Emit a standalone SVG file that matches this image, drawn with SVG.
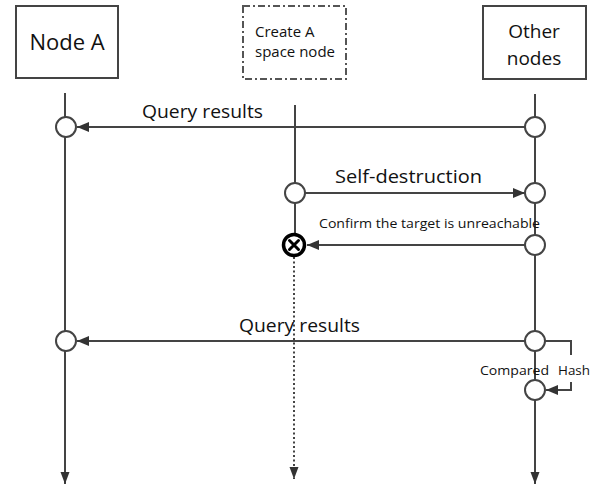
<svg xmlns="http://www.w3.org/2000/svg" width="598" height="486" viewBox="0 0 598 486">
<style>
  .box{fill:#fff;stroke:#444;stroke-width:2}
  .life{stroke:#444;stroke-width:2;fill:none}
  .msg{stroke:#444;stroke-width:2;fill:none}
  .dot{stroke:#444;stroke-width:2;fill:none;stroke-dasharray:2 2.5}
  .act{fill:#fff;stroke:#444;stroke-width:2}
  text{font-family:"Open Sans","Liberation Sans",sans-serif;fill:#111}
</style>
<defs>
  <marker id="ah" markerWidth="12" markerHeight="10" refX="12" refY="5" orient="auto" markerUnits="userSpaceOnUse">
    <path d="M0,0 L12,5 L0,10 Z" fill="#333"/>
  </marker>
  <marker id="ahd" markerWidth="12" markerHeight="16" refX="16" refY="6" orient="auto" markerUnits="userSpaceOnUse" viewBox="0 0 16 12">
    <path d="M0,0 L16,6 L0,12 Z" fill="#333"/>
  </marker>
</defs>

<g id="node-a">
  <rect class="box" x="16" y="6" width="102" height="72"/>
  <text x="67" y="50" font-size="22" text-anchor="middle">Node A</text>
</g>
<g id="create-a">
  <rect x="243" y="6" width="103" height="73" fill="#fff" stroke="#555" stroke-width="2" stroke-dasharray="7 3 2 3"/>
  <text x="255" y="37" font-size="15">Create A</text>
  <text x="255" y="57" font-size="15">space node</text>
</g>
<g id="other-nodes">
  <rect class="box" x="483" y="6" width="103" height="73"/>
  <text x="534" y="38" font-size="19" text-anchor="middle">Other</text>
  <text x="534" y="65" font-size="19" text-anchor="middle">nodes</text>
</g>

<g id="lifelines">
  <line class="life" x1="65" y1="93" x2="65" y2="484" marker-end="url(#ahd)"/>
  <line class="life" x1="295" y1="105" x2="295" y2="234"/>
  <line class="dot" x1="294" y1="257" x2="294" y2="479" marker-end="url(#ahd)"/>
  <line class="life" x1="535" y1="94" x2="535" y2="484" marker-end="url(#ahd)"/>
</g>

<g id="connectors">
  <line class="msg" x1="525" y1="127" x2="77" y2="127" marker-end="url(#ah)"/>
  <line class="msg" x1="305" y1="193" x2="525" y2="193" marker-end="url(#ah)"/>
  <line class="msg" x1="525" y1="245" x2="307" y2="245" marker-end="url(#ah)"/>
  <line class="msg" x1="525" y1="341" x2="77" y2="341" marker-end="url(#ah)"/>
  <polyline class="msg" points="545,341 571,341 571,355"/>
  <polyline class="msg" points="571,382 571,390 546,390" marker-end="url(#ah)"/>
</g>

<g id="activations">
  <circle class="act" cx="66" cy="127" r="10"/>
  <circle class="act" cx="535" cy="127" r="10"/>
  <circle class="act" cx="295" cy="193" r="10"/>
  <circle class="act" cx="535" cy="193" r="10"/>
  <circle class="act" cx="535" cy="245" r="10"/>
  <circle class="act" cx="66" cy="341" r="10"/>
  <circle class="act" cx="535" cy="341" r="10"/>
  <circle class="act" cx="535" cy="390" r="10"/>
</g>

<g id="destroy">
  <circle cx="294" cy="245" r="10.5" fill="#fff" stroke="#000" stroke-width="3.5"/>
  <path d="M289.5,240.5 L298.5,249.5 M298.5,240.5 L289.5,249.5" stroke="#000" stroke-width="3" stroke-linecap="round"/>
</g>

<g id="labels">
  <text x="142" y="118" font-size="18" textLength="121" lengthAdjust="spacingAndGlyphs">Query results</text>
  <text x="335" y="183" font-size="18" textLength="147" lengthAdjust="spacingAndGlyphs">Self-destruction</text>
  <text x="319" y="228" font-size="13" textLength="221" lengthAdjust="spacingAndGlyphs">Confirm the target is unreachable</text>
  <text x="239" y="332" font-size="18" textLength="121" lengthAdjust="spacingAndGlyphs">Query results</text>
  <text x="480" y="375" font-size="12.5" textLength="69" lengthAdjust="spacingAndGlyphs">Compared</text>
  <text x="558" y="375" font-size="12.5" textLength="32" lengthAdjust="spacingAndGlyphs">Hash</text>
</g>
</svg>
